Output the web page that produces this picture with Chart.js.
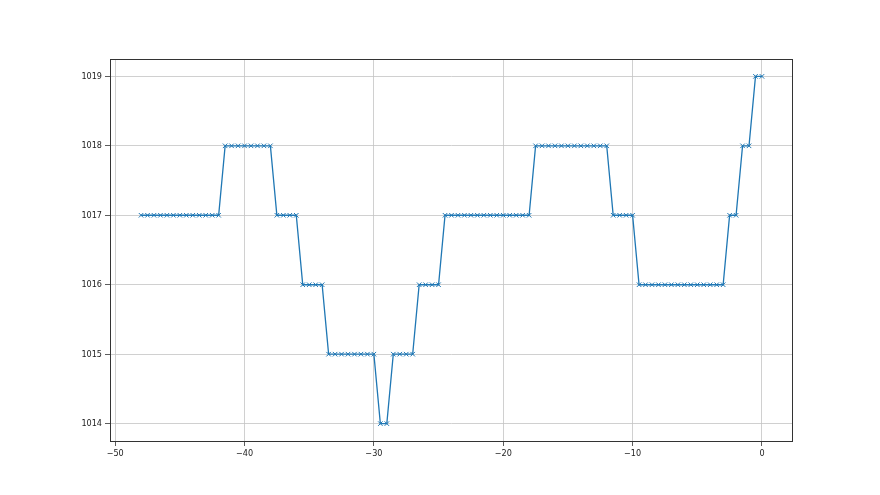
<!DOCTYPE html>
<html>
<head>
<meta charset="utf-8">
<script src="https://cdn.jsdelivr.net/npm/chart.js@4"></script>
<style>
  html, body { margin: 0; padding: 0; background: #fff; }
</style>
</head>
<body>
<canvas id="pressureChart" width="880" height="495"></canvas>
<script>
// hours before now
const hours = [
  -48, -47.5, -47, -46.5, -46, -45.5, -45, -44.5, -44, -43.5, -43, -42.5, -42,
  -41.5, -41, -40.5, -40, -39.5, -39, -38.5, -38,
  -37.5, -37, -36.5, -36,
  -35.5, -35, -34.5, -34,
  -33.5, -33, -32.5, -32, -31.5, -31, -30.5, -30,
  -29.5, -29,
  -28.5, -28, -27.5, -27,
  -26.5, -26, -25.5, -25,
  -24.5, -24, -23.5, -23, -22.5, -22, -21.5, -21, -20.5, -20, -19.5, -19, -18.5, -18,
  -17.5, -17, -16.5, -16, -15.5, -15, -14.5, -14, -13.5, -13, -12.5, -12,
  -11.5, -11, -10.5, -10,
  -9.5, -9, -8.5, -8, -7.5, -7, -6.5, -6, -5.5, -5, -4.5, -4, -3.5, -3,
  -2.5, -2,
  -1.5, -1,
  -0.5, 0
];
const pressure = [
  1017, 1017, 1017, 1017, 1017, 1017, 1017, 1017, 1017, 1017, 1017, 1017, 1017,
  1018, 1018, 1018, 1018, 1018, 1018, 1018, 1018,
  1017, 1017, 1017, 1017,
  1016, 1016, 1016, 1016,
  1015, 1015, 1015, 1015, 1015, 1015, 1015, 1015,
  1014, 1014,
  1015, 1015, 1015, 1015,
  1016, 1016, 1016, 1016,
  1017, 1017, 1017, 1017, 1017, 1017, 1017, 1017, 1017, 1017, 1017, 1017, 1017, 1017,
  1018, 1018, 1018, 1018, 1018, 1018, 1018, 1018, 1018, 1018, 1018, 1018,
  1017, 1017, 1017, 1017,
  1016, 1016, 1016, 1016, 1016, 1016, 1016, 1016, 1016, 1016, 1016, 1016, 1016, 1016,
  1017, 1017,
  1018, 1018,
  1019, 1019
];
const xTicks = [-50, -40, -30, -20, -10, 0];
const yTicks = [1014, 1015, 1016, 1017, 1018, 1019];

// draw all four spines like matplotlib
const framePlugin = {
  id: "frame",
  afterDraw(chart) {
    const { ctx, chartArea: a } = chart;
    ctx.save();
    ctx.strokeStyle = "#333";
    ctx.lineWidth = 1;
    ctx.strokeRect(a.left + 0.5, a.top + 0.5, a.right - a.left - 1, a.bottom - a.top);
    ctx.restore();
  }
};

const tickFont = { family: "'DejaVu Sans Condensed', 'DejaVu Sans', sans-serif", size: 9 };
const fmt = v => String(v).replace("-", "\u2212");

new Chart(document.getElementById("pressureChart"), {
  type: "scatter",
  data: {
    datasets: [{
      data: hours.map((h, i) => ({ x: h, y: pressure[i] })),
      showLine: true,
      borderColor: "#1f77b4",
      backgroundColor: "#1f77b4",
      borderWidth: 1.3,
      pointStyle: "crossRot",
      pointRadius: 3.2,
      pointBorderWidth: 1,
      pointBorderColor: "#1f77b4",
      tension: 0
    }]
  },
  options: {
    responsive: false,
    animation: false,
    devicePixelRatio: 1,
    layout: { padding: { left: 0, top: 59, right: 87, bottom: 0 } },
    plugins: { legend: { display: false }, tooltip: { enabled: false } },
    scales: {
      x: {
        type: "linear",
        min: -50.4,
        max: 2.4,
        afterBuildTicks: s => { s.ticks = xTicks.map(v => ({ value: v })); },
        afterFit: s => { s.height = 54; },
        ticks: { color: "#222", font: tickFont, padding: 2, maxRotation: 0, autoSkip: false, callback: fmt },
        grid: { color: "#c4c4c4", lineWidth: 0.8, tickLength: 5, tickColor: "#333" },
        border: { display: false }
      },
      y: {
        min: 1013.75,
        max: 1019.25,
        afterBuildTicks: s => { s.ticks = yTicks.map(v => ({ value: v })); },
        afterFit: s => { s.width = 110; },
        ticks: { color: "#222", font: tickFont, padding: 3, autoSkip: false, callback: fmt },
        grid: { color: "#c4c4c4", lineWidth: 0.8, tickLength: 5, tickColor: "#333" },
        border: { display: false }
      }
    }
  },
  plugins: [framePlugin]
});
</script>
</body>
</html>
